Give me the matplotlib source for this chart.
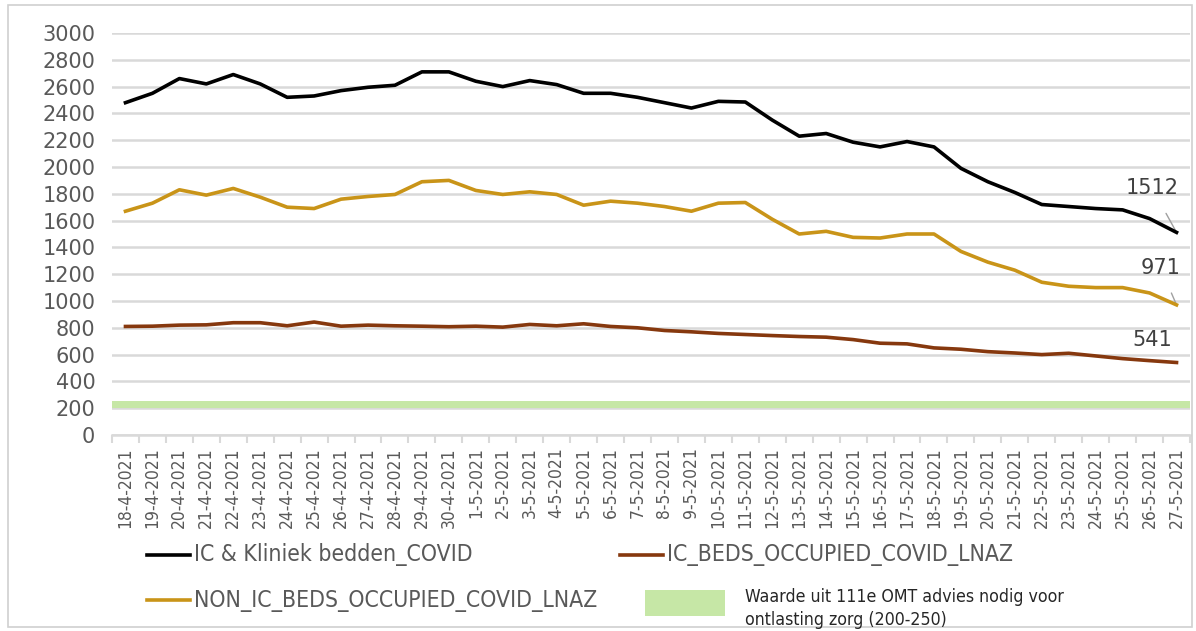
import matplotlib
matplotlib.use("Agg")
import matplotlib.pyplot as plt
from matplotlib import font_manager
from matplotlib.lines import Line2D
from matplotlib.patches import Rectangle

dates = ["18-4-2021", "19-4-2021", "20-4-2021", "21-4-2021", "22-4-2021", "23-4-2021",
         "24-4-2021", "25-4-2021", "26-4-2021", "27-4-2021", "28-4-2021", "29-4-2021",
         "30-4-2021", "1-5-2021", "2-5-2021", "3-5-2021", "4-5-2021", "5-5-2021",
         "6-5-2021", "7-5-2021", "8-5-2021", "9-5-2021", "10-5-2021", "11-5-2021",
         "12-5-2021", "13-5-2021", "14-5-2021", "15-5-2021", "16-5-2021", "17-5-2021",
         "18-5-2021", "19-5-2021", "20-5-2021", "21-5-2021", "22-5-2021", "23-5-2021",
         "24-5-2021", "25-5-2021", "26-5-2021", "27-5-2021"]

total_beds = [2480, 2550, 2660, 2620, 2690, 2620, 2520, 2530, 2570, 2595,
              2610, 2710, 2710, 2640, 2600, 2645, 2615, 2550, 2550, 2520,
              2480, 2440, 2490, 2485, 2350, 2230, 2250, 2185, 2150, 2190,
              2150, 1990, 1890, 1810, 1720, 1705, 1690, 1680, 1615, 1512]

non_ic_beds = [1670, 1730, 1830, 1790, 1840, 1775, 1700, 1690, 1760, 1780,
               1795, 1890, 1900, 1825, 1795, 1815, 1795, 1715, 1745, 1730,
               1705, 1670, 1730, 1735, 1610, 1500, 1520, 1475, 1470, 1500,
               1500, 1370, 1290, 1230, 1140, 1110, 1100, 1100, 1060, 971]

ic_beds = [810, 812, 820, 822, 838, 838, 815, 843, 812, 820,
           815, 812, 808, 812, 805, 825, 815, 830, 810, 800,
           780, 770, 758, 750, 742, 735, 730, 712, 685, 680,
           650, 640, 622, 612, 600, 610, 590, 570, 555, 541]

band_low, band_high = 200, 250
yticks = list(range(0, 3001, 200))

label_total = "IC & Kliniek bedden_COVID"
label_ic = "IC_BEDS_OCCUPIED_COVID_LNAZ"
label_non_ic = "NON_IC_BEDS_OCCUPIED_COVID_LNAZ"
label_band = ["Waarde uit 111e OMT advies nodig voor", "ontlasting zorg (200-250)"]

c_black = "#000000"
c_gold = "#C99418"
c_brown = "#86380E"
c_green = "#C6E7A6"
c_text = "#595959"
c_grid = "#D9D9D9"

# find a condensed / narrow font if one is installed
narrow_path = None
for f in font_manager.fontManager.ttflist:
    fn = f.fname
    if ("Narrow" in fn or "Condensed" in fn) and "Bold" not in fn and "Oblique" not in fn \
            and "Italic" not in fn and "Light" not in fn and "ExtraLight" not in fn:
        if narrow_path is None or "Liberation" in fn:
            narrow_path = fn


def nfont(size_cond, size_normal):
    if narrow_path:
        return font_manager.FontProperties(fname=narrow_path, size=size_cond)
    return font_manager.FontProperties(family="DejaVu Sans", size=size_normal)


W, H = 1196, 631
fig = plt.figure(figsize=(W / 100, H / 100), dpi=100)
ax = fig.add_axes([112 / W, 1 - 435 / H, (1190 - 112) / W, (435 - 33) / H])

x = list(range(len(dates)))
ax.axhspan(band_low, band_high, color=c_green, zorder=1, lw=0)
ax.plot(x, total_beds, color=c_black, lw=2.6, zorder=4, solid_joinstyle="round")
ax.plot(x, non_ic_beds, color=c_gold, lw=2.6, zorder=4, solid_joinstyle="round")
ax.plot(x, ic_beds, color=c_brown, lw=2.6, zorder=4, solid_joinstyle="round")

ax.set_xlim(-0.5, len(dates) - 0.5)
ax.set_ylim(0, 3000)
ax.set_yticks(yticks)
ax.set_yticklabels([str(v) for v in yticks], fontsize=15, color=c_text)
ax.tick_params(axis="y", length=0, pad=12)
ax.set_xticks(x)
ax.set_xticklabels(dates, rotation=90, color=c_text, fontproperties=nfont(12.5, 11.5))
ax.tick_params(axis="x", which="major", length=0, pad=9)
ax.set_xticks([i + 0.5 for i in range(-1, len(dates))], minor=True)
ax.tick_params(axis="x", which="minor", length=6, color=c_grid, width=1.5)
ax.grid(axis="y", color=c_grid, lw=1.8, zorder=0)
ax.set_axisbelow(True)
for s in ["top", "right", "left"]:
    ax.spines[s].set_visible(False)
ax.spines["bottom"].set_color(c_grid)
ax.spines["bottom"].set_linewidth(1.8)

# data labels with leader lines
last = len(dates) - 1
ax.annotate(str(total_beds[-1]), xy=(last, total_beds[-1]), xytext=(last - 0.9, 1840),
            fontsize=15, color="#404040", ha="center", va="center",
            arrowprops=dict(arrowstyle="-", color="#A0A0A0", lw=1, shrinkA=10, shrinkB=0))
ax.annotate(str(non_ic_beds[-1]), xy=(last, non_ic_beds[-1]), xytext=(last - 0.6, 1250),
            fontsize=15, color="#404040", ha="center", va="center",
            arrowprops=dict(arrowstyle="-", color="#A0A0A0", lw=1, shrinkA=10, shrinkB=0))
ax.annotate(str(ic_beds[-1]), xy=(last, ic_beds[-1]), xytext=(last - 0.9, 710),
            fontsize=15, color="#404040", ha="center", va="center")


# legend (manual, figure pixel coordinates)
def fx(px):
    return px / W


def fy(py):
    return 1 - py / H


for (x0, y0, col, lab) in [(147, 555, c_black, label_total),
                           (620, 555, c_brown, label_ic),
                           (147, 600, c_gold, label_non_ic)]:
    fig.add_artist(Line2D([fx(x0), fx(x0 + 43)], [fy(y0), fy(y0)], color=col, lw=2.6))
    fig.text(fx(x0 + 47), fy(y0), lab, fontproperties=nfont(16.5, 13), color=c_text,
             va="center", ha="left")

fig.add_artist(Rectangle((fx(645), fy(616)), fx(80), 26 / H, color=c_green, lw=0))
fig.text(fx(745), fy(597), label_band[0], fontproperties=nfont(12.7, 11), color="#262626",
         va="center", ha="left")
fig.text(fx(745), fy(620), label_band[1], fontproperties=nfont(12.7, 11), color="#262626",
         va="center", ha="left")

# outer frame
fig.add_artist(Rectangle((fx(8), fy(627)), fx(1184), (627 - 5) / H, fill=False,
                         edgecolor="#D0D0D0", lw=1.2))

fig.savefig("out.png", dpi=100)
